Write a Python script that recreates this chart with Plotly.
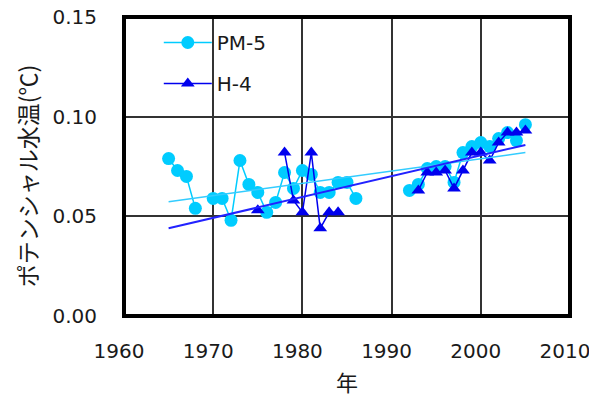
import plotly.graph_objects as go

# Annual potential temperature at two stations (None = no observation)
years = list(range(1965, 2006))

pm5 = [0.079, 0.073, 0.070, 0.054, None, 0.059, 0.059, 0.048, 0.078, 0.066,
       0.062, 0.052, 0.057, 0.072, 0.064, 0.073, 0.071, 0.062, 0.062, 0.067,
       0.067, 0.059, None, None, None, None, None, 0.063, 0.066, 0.074,
       0.075, 0.075, 0.067, 0.082, 0.085, 0.087, 0.085, 0.089, 0.092, 0.088,
       0.096]

h4 = [None, None, None, None, None, None, None, None, None, None,
      0.053, None, None, 0.082, 0.058, 0.052, 0.082, 0.044, 0.052, 0.052,
      None, None, None, None, None, None, None, None, 0.063, 0.072,
      0.072, 0.073, 0.064, 0.073, 0.082, 0.082, 0.078, 0.087, 0.092, 0.092,
      0.093]

# Linear trend end points for each station
trend_years = [1965, 2005]
pm5_trend = [0.0573, 0.0820]
h4_trend = [0.0440, 0.0858]

x_ticks = [1960, 1970, 1980, 1990, 2000, 2010]
y_ticks = [0.00, 0.05, 0.10, 0.15]
y_tick_labels = ["0.00", "0.05", "0.10", "0.15"]

CYAN = "#00CCFF"
BLUE = "#0000EE"
TICK_FONT = dict(family="DejaVu Sans", size=20, color="#1a1a1a")
JP_FONT = dict(family="Noto Sans CJK JP", size=23, color="#1a1a1a")

fig = go.Figure()

fig.add_trace(go.Scatter(
    x=years, y=pm5, name="PM-5", mode="lines+markers",
    connectgaps=False, legendgroup="pm5",
    line=dict(color=CYAN, width=1.5),
    marker=dict(symbol="circle", size=13, color=CYAN),
))
fig.add_trace(go.Scatter(
    x=years, y=h4, name="H-4", mode="lines+markers",
    connectgaps=False, legendgroup="h4",
    line=dict(color=BLUE, width=1.5),
    marker=dict(symbol="triangle-up", size=12, color=BLUE),
))
fig.add_trace(go.Scatter(
    x=trend_years, y=pm5_trend, mode="lines", showlegend=False,
    line=dict(color="#33CCFF", width=1.5), hoverinfo="skip",
))
fig.add_trace(go.Scatter(
    x=trend_years, y=h4_trend, mode="lines", showlegend=False,
    line=dict(color="#2222FF", width=2), hoverinfo="skip",
))

grid = dict(showgrid=True, gridcolor="#333333", gridwidth=1.5,
            zeroline=False, showline=False, ticks="", tickfont=TICK_FONT,
            ticklabeloverflow="allow", automargin=False)

fig.update_xaxes(range=[1960, 2010], tickvals=x_ticks, ticklabelstandoff=21,
                 ticklabelshift=-5, **grid)
fig.update_yaxes(range=[0, 0.15], tickvals=y_ticks, ticktext=y_tick_labels,
                 ticklabelstandoff=26, **grid)

# Heavy plot-area frame
fig.add_shape(type="rect", xref="paper", yref="paper", x0=0, y0=0, x1=1, y1=1,
              line=dict(color="black", width=4), layer="above")

# Axis titles
fig.add_annotation(text="年", xref="paper", yref="paper",
                   x=0.5, y=-0.219, xanchor="center", yanchor="middle",
                   showarrow=False, font=dict(JP_FONT, size=22))
fig.add_annotation(text="ポテンシャル水温(℃)", xref="paper", yref="paper",
                   x=-0.217, y=0.468, xanchor="center", yanchor="middle",
                   textangle=-90, showarrow=False, font=JP_FONT)

fig.update_layout(
    width=589, height=397,
    margin=dict(l=124, r=19, t=17, b=81, autoexpand=False),
    paper_bgcolor="white", plot_bgcolor="white",
    showlegend=True,
    legend=dict(x=0.078, y=0.98, xanchor="left", yanchor="top",
                bgcolor="rgba(255,255,255,0)", borderwidth=0,
                tracegroupgap=12, itemwidth=48,
                font=dict(family="DejaVu Sans", size=20, color="#1a1a1a")),
)

fig.write_html("out.html")
